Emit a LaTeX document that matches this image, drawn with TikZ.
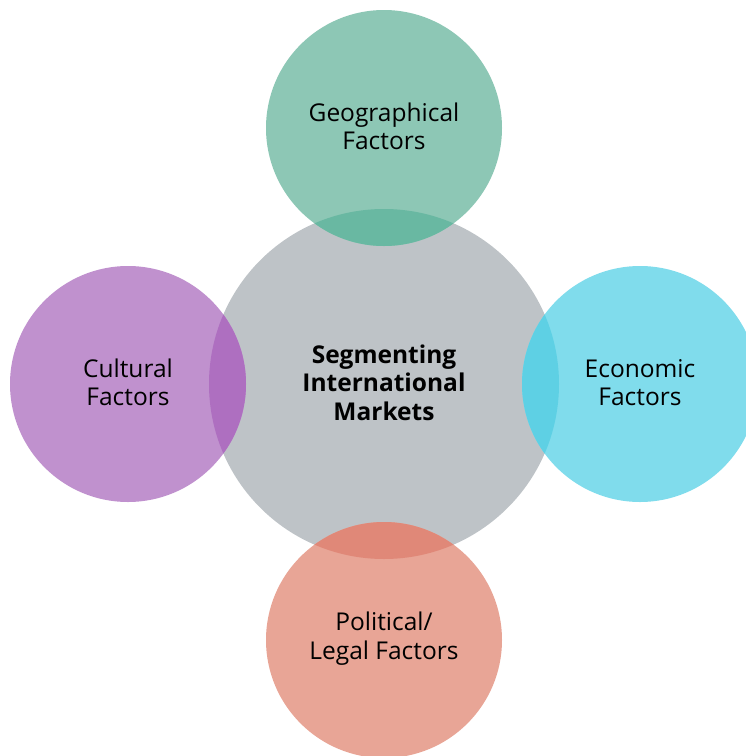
\documentclass[tikz,border=0pt]{standalone}
\usepackage{fontspec}
\setmainfont{Open Sans}
\definecolor{cgray}{HTML}{BEC3C7}
\definecolor{cteal}{HTML}{8DC7B5}
\definecolor{cteald}{HTML}{69B8A2}
\definecolor{cpurp}{HTML}{C091CE}
\definecolor{cpurpd}{HTML}{AE6FC0}
\definecolor{ccyan}{HTML}{80DCEC}
\definecolor{ccyand}{HTML}{5ED0E4}
\definecolor{csalm}{HTML}{E8A596}
\definecolor{csalmd}{HTML}{E08878}
\tikzset{
  outer/.style={circle, inner sep=0pt, minimum size=236pt, align=center, font=\fontsize{24.5}{28.5}\selectfont, text=black},
  hub/.style={circle, fill=cgray, inner sep=0pt, minimum size=350pt, align=center, font=\fontsize{24.5}{28.5}\selectfont\bfseries, text=black}
}
\begin{document}
\begin{tikzpicture}[x=1pt,y=1pt]
\useasboundingbox (0,0) rectangle (746,-756);
\node[hub] (hub) at (384,-384) {};
\node[outer, fill=cteal] (geo) at (384,-128) {};
\node[outer, fill=cpurp] (cul) at (128,-384) {};
\node[outer, fill=ccyan] (eco) at (640,-384) {};
\node[outer, fill=csalm] (pol) at (384,-640) {};
\begin{scope}
  \clip (384,-384) circle (175);
  \fill[cteald] (384,-128) circle (118);
  \fill[cpurpd] (128,-384) circle (118);
  \fill[ccyand] (640,-384) circle (118);
  \fill[csalmd] (384,-640) circle (118);
\end{scope}
\node[outer] (geot) at ([yshift=1.5pt]geo.center) {Geographical\\Factors};
\node[outer] (cult) at ([yshift=1.5pt]cul.center) {Cultural\\Factors};
\node[outer] (ecot) at ([yshift=1.5pt]eco.center) {Economic\\Factors};
\node[outer] (polt) at ([yshift=1.5pt]pol.center) {Political/\\Legal Factors};
\node[hub, fill=none] (hubt) at ([yshift=1.5pt]hub.center) {Segmenting\\International\\Markets};
\end{tikzpicture}
\end{document}
